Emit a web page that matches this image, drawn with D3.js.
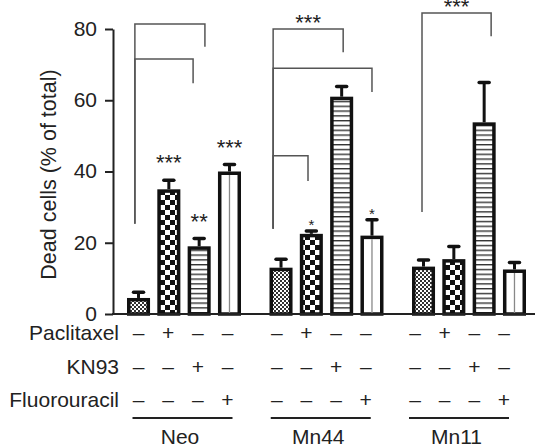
<!DOCTYPE html>
<html lang="en">
<head>
<meta charset="UTF-8">
<title>Dead cells</title>
<style>
  body { margin: 0; background: #fff; }
  text { font-family: "Liberation Sans", Arial, Helvetica, sans-serif; fill: #222; }
</style>
</head>
<body>
<div id="svg"></div>
<script src="https://cdn.jsdelivr.net/npm/d3@7/dist/d3.min.js"></script>
<script>
  // data
  const groups = ["Neo", "Mn44", "Mn11"]
  const treatments = ["Control", "Paclitaxel", "KN93", "Fluorouracil"]
  const rowLabels = ["Paclitaxel", "KN93", "Fluorouracil"]
  const means = {
    Neo:  [4.5, 35, 19, 40],
    Mn44: [13, 22.5, 61, 22],
    Mn11: [13.3, 15.4, 53.8, 12.5]
  }
  const errs = {
    Neo:  [2, 3, 2.6, 2.4],
    Mn44: [2.8, 1.2, 3.3, 4.9],
    Mn11: [2.3, 4, 11.6, 2.4]
  }
  const yTicks = [0, 20, 40, 60, 80]
  // stars above bars
  const barStars = [
    { g: "Neo", i: 1, label: "***" },
    { g: "Neo", i: 2, label: "**" },
    { g: "Neo", i: 3, label: "***" },
    { g: "Mn44", i: 1, label: "*" },
    { g: "Mn44", i: 3, label: "*" }
  ]
  // brackets: a/b = bar index (fractional), top / footA / footB in data units
  const brackets = [
    { g: "Neo", a: -0.12, b: 2.19, top: 81.4, footA: 25.3, footB: 75, label: "" },
    { g: "Neo", a: -0.12, b: 1.8, top: 71.6, footA: 25.3, footB: 64.8, label: "" },
    { g: "Mn44", a: -0.26, b: 2.05, top: 80, footA: 23.9, footB: 73.5, label: "***" },
    { g: "Mn44", a: -0.26, b: 3.0, top: 69, footA: 23.9, footB: 62.3, label: "" },
    { g: "Mn44", a: -0.26, b: 0.89, top: 44.4, footA: 23.9, footB: 37.3, label: "" },
    { g: "Mn11", a: -0.05, b: 2.23, top: 84.5, footA: 28.6, footB: 78, label: "***" }
  ]

  const width = 535
  const height = 448
  const svg = d3.select("#svg").append("svg").attr("width", width).attr("height", height)

  // 比例尺
  const y = d3.scaleLinear().domain([0, 80]).range([314, 29])
  const x0 = d3.scaleBand().domain(groups).range([127, 526]).paddingInner(0.2)
  const x1 = d3.scaleBand().domain(treatments).range([0, x0.bandwidth()]).paddingInner(0.24)
  const barCenter = (g, i) => x0(g) + i * x1.step() + x1.bandwidth() / 2

  // label positions under the axis (slightly offset from bars as in the figure)
  const lx0 = d3.scalePoint().domain(groups).range([138.5, 415])
  const lx1 = d3.scalePoint().domain(treatments).range([0, 89])

  // patterns
  const defs = svg.append("defs")
  const p1 = defs.append("pattern").attr("id", "p1").attr("patternUnits", "userSpaceOnUse")
    .attr("width", 4).attr("height", 4)
  p1.append("rect").attr("width", 4).attr("height", 4).attr("fill", "#fff")
  p1.append("rect").attr("width", 2).attr("height", 2).attr("fill", "#333")
  p1.append("rect").attr("x", 2).attr("y", 2).attr("width", 2).attr("height", 2).attr("fill", "#333")

  const p2 = defs.append("pattern").attr("id", "p2").attr("patternUnits", "userSpaceOnUse")
    .attr("width", 10).attr("height", 10)
  p2.append("rect").attr("width", 10).attr("height", 10).attr("fill", "#fff")
  p2.append("rect").attr("width", 5).attr("height", 5).attr("fill", "#111")
  p2.append("rect").attr("x", 5).attr("y", 5).attr("width", 5).attr("height", 5).attr("fill", "#111")

  const p3 = defs.append("pattern").attr("id", "p3").attr("patternUnits", "userSpaceOnUse")
    .attr("width", 10).attr("height", 4.8)
  p3.append("rect").attr("width", 10).attr("height", 4.8).attr("fill", "#fff")
  p3.append("rect").attr("width", 10).attr("height", 1.4).attr("fill", "#333")

  const fills = ["url(#p1)", "url(#p2)", "url(#p3)", "#fff"]

  // brackets (drawn first, behind bars)
  svg.append("g").selectAll("path").data(brackets).enter().append("path")
    .attr("fill", "none").attr("stroke", "#555").attr("stroke-width", 1.5)
    .attr("d", d => {
      const xa = barCenter(d.g, d.a), xb = barCenter(d.g, d.b)
      return `M${xa},${y(d.footA)}V${y(d.top)}H${xb}V${y(d.footB)}`
    })
  svg.append("g").selectAll("text").data(brackets.filter(d => d.label)).enter().append("text")
    .attr("text-anchor", "middle").attr("font-size", 22)
    .attr("x", d => (barCenter(d.g, d.a) + barCenter(d.g, d.b)) / 2)
    .attr("y", d => y(d.top) - 12 + 0.575 * 22)
    .text(d => d.label)

  // bars
  const bars = []
  groups.forEach(g => treatments.forEach((t, i) => bars.push({ g, t, i, v: means[g][i], e: errs[g][i] })))

  const barG = svg.append("g")
  barG.selectAll("rect").data(bars).enter().append("rect")
    .attr("x", d => x0(d.g) + x1(d.t) + 1.75)
    .attr("y", d => y(d.v) + 1.75)
    .attr("width", x1.bandwidth() - 3.5)
    .attr("height", d => y(0) - y(d.v) - 1.75)
    .attr("fill", d => fills[d.i])
    .attr("stroke", "#111").attr("stroke-width", 3.5)

  // vertical line inside the white bars
  barG.selectAll("line.mid").data(bars.filter(d => d.i === 3)).enter().append("line")
    .attr("class", "mid")
    .attr("x1", d => barCenter(d.g, d.i)).attr("x2", d => barCenter(d.g, d.i))
    .attr("y1", d => y(d.v) + 3.5).attr("y2", y(0))
    .attr("stroke", "#888").attr("stroke-width", 1.3)

  // error bars
  barG.selectAll("line.err").data(bars).enter().append("line")
    .attr("class", "err")
    .attr("x1", d => barCenter(d.g, d.i)).attr("x2", d => barCenter(d.g, d.i))
    .attr("y1", d => y(d.v)).attr("y2", d => y(d.v + d.e) + 1.5)
    .attr("stroke", "#111").attr("stroke-width", 3)
  barG.selectAll("line.cap").data(bars).enter().append("line")
    .attr("class", "cap")
    .attr("x1", d => barCenter(d.g, d.i) - 5).attr("x2", d => barCenter(d.g, d.i) + 5)
    .attr("y1", d => y(d.v + d.e) + 1.5).attr("y2", d => y(d.v + d.e) + 1.5)
    .attr("stroke", "#111").attr("stroke-width", 3.5).attr("stroke-linecap", "round")

  // stars above bars
  svg.append("g").selectAll("text").data(barStars).enter().append("text")
    .attr("text-anchor", "middle")
    .attr("font-size", d => d.label.length === 1 ? 15 : 22)
    .attr("x", d => barCenter(d.g, d.i))
    .attr("y", d => {
      const top = y(means[d.g][d.i] + errs[d.g][d.i])
      const fs = d.label.length === 1 ? 15 : 22
      const gap = d.label.length === 1 ? 8 : 21
      return top - gap + 0.575 * fs
    })
    .text(d => d.label)

  // y axis
  const yAxis = svg.append("g").attr("transform", "translate(113,0)")
    .call(d3.axisLeft(y).tickValues(yTicks).tickSize(8).tickSizeOuter(0).tickPadding(8))
  yAxis.select(".domain").attr("stroke", "#222").attr("stroke-width", 2)
  yAxis.selectAll(".tick line").attr("stroke", "#222").attr("stroke-width", 2)
  yAxis.selectAll(".tick text").attr("font-size", 21).attr("font-family", null).attr("fill", "#222")
    .attr("dy", "0.3em")

  // baseline
  svg.append("line").attr("x1", 112).attr("x2", width).attr("y1", y(0)).attr("y2", y(0))
    .attr("stroke", "#222").attr("stroke-width", 2)

  // y label
  svg.append("text")
    .attr("transform", `translate(56,${(y(0) + y(80)) / 2 + 3}) rotate(-90)`)
    .attr("text-anchor", "middle").attr("font-size", 21.5)
    .text("Dead cells (% of total)")

  // treatment rows
  const rowY = [340, 374, 407]
  const rows = svg.append("g")
  rows.selectAll("text.rl").data(rowLabels).enter().append("text")
    .attr("class", "rl").attr("text-anchor", "end").attr("font-size", 21)
    .attr("x", 119).attr("y", (d, r) => rowY[r]).text(d => d)

  const signs = []
  rowLabels.forEach((rl, r) => groups.forEach(g => treatments.forEach((t, i) => {
    signs.push({ r, g, t, s: t === rl ? "+" : "\u2013" })
  })))
  rows.selectAll("text.sg").data(signs).enter().append("text")
    .attr("class", "sg").attr("text-anchor", "middle").attr("font-size", 21)
    .attr("x", d => lx0(d.g) + lx1(d.t)).attr("y", d => rowY[d.r]).text(d => d.s)

  // group lines & names
  rows.selectAll("line.gl").data(groups).enter().append("line")
    .attr("class", "gl")
    .attr("x1", g => lx0(g) - 6).attr("x2", g => lx0(g) + lx1.range()[1] + 5)
    .attr("y1", 418).attr("y2", 418)
    .attr("stroke", "#222").attr("stroke-width", 2)
  rows.selectAll("text.gn").data(groups).enter().append("text")
    .attr("class", "gn").attr("text-anchor", "middle").attr("font-size", 21)
    .attr("x", g => lx0(g) + lx1.range()[1] / 2 - 3).attr("y", 444).text(g => g)
</script>
</body>
</html>
